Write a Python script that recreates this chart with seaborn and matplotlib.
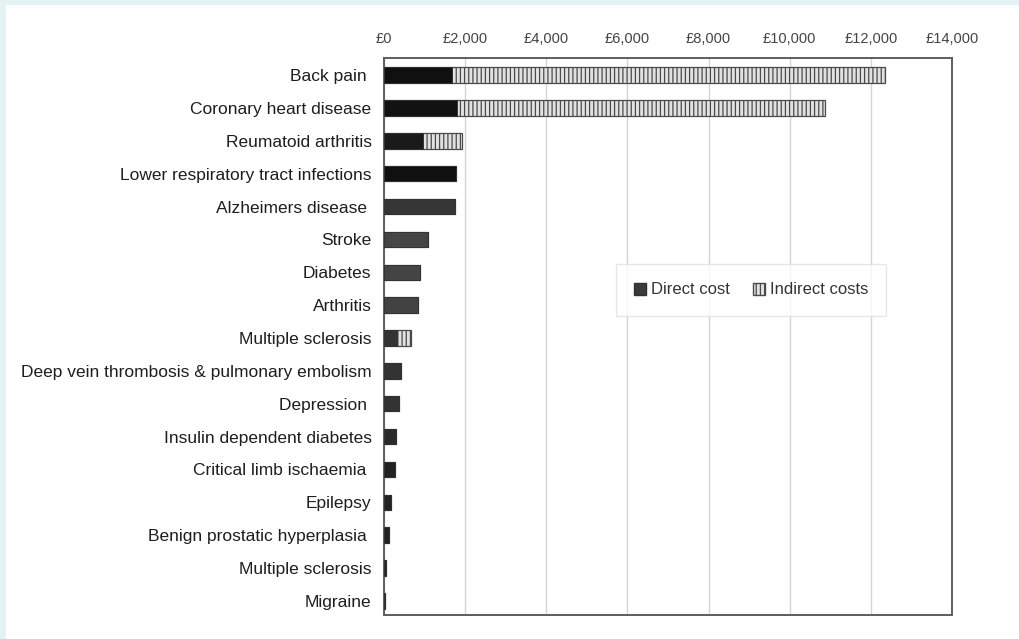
import matplotlib
matplotlib.use("Agg")
import matplotlib.pyplot as plt
from matplotlib.patches import Patch, Rectangle
from matplotlib.ticker import FuncFormatter
import pandas as pd
import seaborn as sns

# Cost per patient, direct vs indirect (GBP)
conditions = [
    "Back pain ", "Coronary heart disease", "Reumatoid arthritis",
    "Lower respiratory tract infections", "Alzheimers disease ", "Stroke",
    "Diabetes", "Arthritis", "Multiple sclerosis",
    "Deep vein thrombosis & pulmonary embolism", "Depression ",
    "Insulin dependent diabetes", "Critical limb ischaemia ", "Epilepsy",
    "Benign prostatic hyperplasia ", "Multiple sclerosis", "Migraine",
]
direct_cost = [1675, 1800, 960, 1770, 1750, 1080, 890, 840, 320,
               420, 370, 300, 270, 170, 130, 50, 30]
indirect_cost = [10665, 9060, 960, 0, 0, 0, 0, 0, 340,
                 0, 0, 0, 0, 0, 0, 0, 0]
x_ticks = [0, 2000, 4000, 6000, 8000, 10000, 12000, 14000]

direct_shades = ["#101010", "#121212", "#1a1a1a", "#101010", "#363636",
                 "#454545", "#444444", "#424242", "#333333", "#333333",
                 "#333333", "#2a2a2a", "#222222", "#222222", "#222222",
                 "#222222", "#222222"]

df = pd.DataFrame({
    "key": [f"c{i:02d}" for i in range(len(conditions))],
    "label": conditions,
    "direct": direct_cost,
    "indirect": indirect_cost,
})
df["total"] = df["direct"] + df["indirect"]

sns.set_theme(style="white")
plt.rcParams["font.family"] = ["Liberation Sans", "DejaVu Sans"]
plt.rcParams["hatch.linewidth"] = 0.9

fig = plt.figure(figsize=(10.19, 6.39), dpi=100)
fig.patch.set_facecolor("white")
# light frame band along the top and left edges
fig.patches.append(Rectangle((0, 1 - 5 / 639), 1, 5 / 639, transform=fig.transFigure,
                             facecolor="#e4f2f3", edgecolor="none", zorder=0))
fig.patches.append(Rectangle((0, 0), 6 / 1019, 1, transform=fig.transFigure,
                             facecolor="#e4f2f3", edgecolor="none", zorder=0))

ax = fig.add_axes([384 / 1019, 1 - 615 / 639, (952 - 384) / 1019, (615 - 58) / 639])
order = list(df["key"])

# total bar (hatched indirect part), then direct cost drawn over it
sns.barplot(data=df, x="total", y="key", order=order, orient="h", ax=ax,
            color="#e2e2e2", edgecolor="#4a4a4a", hatch="||||", linewidth=0.9,
            width=0.47, zorder=2)
sns.barplot(data=df, x="direct", y="key", order=order, orient="h", ax=ax,
            hue="key", palette=dict(zip(df["key"], direct_shades)), legend=False,
            edgecolor="#303030", linewidth=0.6, width=0.47, zorder=3)

ax.set_xlim(0, 14000)
ax.set_ylim(len(conditions) - 1 + 0.43, -0.52)
ax.set_xticks(x_ticks)
ax.xaxis.set_major_formatter(FuncFormatter(lambda v, p: f"£{int(v):,}"))
ax.xaxis.tick_top()
ax.tick_params(axis="x", length=0, pad=8.5, labelsize=10.5, labelcolor="#444444")
ax.tick_params(axis="y", length=0, pad=9, labelsize=12.5, labelcolor="#1e1e1e")
ax.set_yticks(range(len(conditions)))
ax.set_yticklabels(conditions)
ax.set_xlabel("")
ax.set_ylabel("")

ax.grid(axis="x", color="#d4d4d4", linewidth=1.0, zorder=0)
ax.set_axisbelow(True)
for side, sp in ax.spines.items():
    sp.set_visible(True)
    sp.set_color("#5e5e5e")
    sp.set_linewidth(1.4)

handles = [
    Patch(facecolor="#3a3a3a", edgecolor="#303030", label="Direct cost"),
    Patch(facecolor="#e2e2e2", edgecolor="#4a4a4a", hatch="||||", label="Indirect costs"),
]
leg = ax.legend(handles=handles, ncol=2, loc="center",
                bbox_to_anchor=(751 / 1019, 1 - 290 / 639),
                bbox_transform=fig.transFigure, frameon=True, fontsize=12,
                handlelength=0.7, handleheight=0.7, handletextpad=0.3,
                columnspacing=1.4, borderpad=1.1, borderaxespad=0,
                fancybox=False)
leg.get_frame().set_edgecolor("#e0e0e0")
leg.get_frame().set_linewidth(1.0)
for t in leg.get_texts():
    t.set_color("#333333")

fig.savefig("out.png", dpi=100, facecolor=fig.get_facecolor())
